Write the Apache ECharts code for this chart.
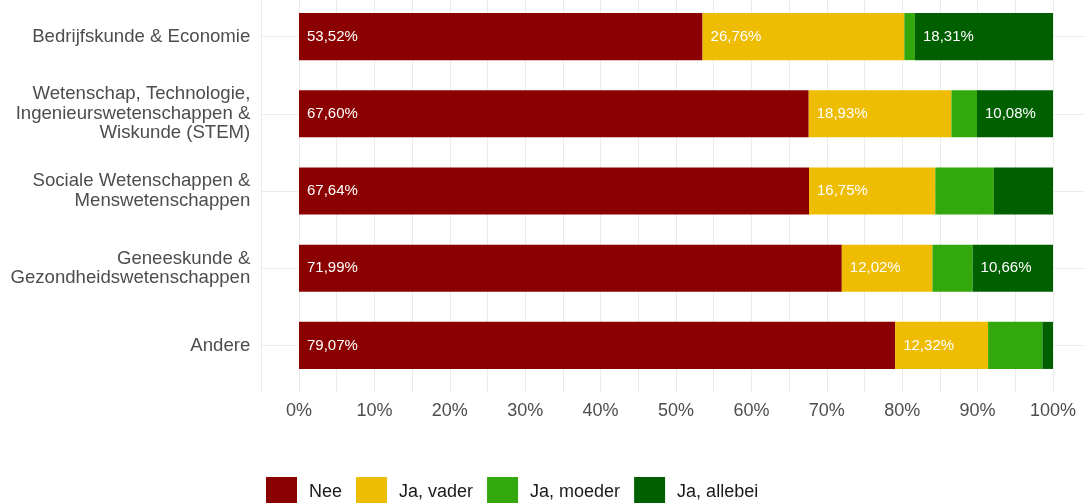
<!DOCTYPE html>
<html>
<head>
<meta charset="utf-8">
<script src="https://cdn.jsdelivr.net/npm/echarts@6/dist/echarts.min.js"></script>
<style>
  html, body { margin: 0; padding: 0; background: #ffffff; }
  #chart { width: 1084px; height: 503px; }
</style>
</head>
<body>
<div id="chart"></div>
<script>
// Study fields, top to bottom
const categories = [
  'Bedrijfskunde & Economie',
  'Wetenschap, Technologie,\nIngenieurswetenschappen &\nWiskunde (STEM)',
  'Sociale Wetenschappen &\nMenswetenschappen',
  'Geneeskunde &\nGezondheidswetenschappen',
  'Andere'
];

// Share (%) per answer
const nee     = [53.52, 67.60, 67.64, 71.99, 79.07];
const vader   = [26.76, 18.93, 16.75, 12.02, 12.32];
const moeder  = [1.41, 3.39, 7.76, 5.33, 7.20];
const allebei = [18.31, 10.08, 7.85, 10.66, 1.41];

const seriesNames = ['Nee', 'Ja, vader', 'Ja, moeder', 'Ja, allebei'];
const seriesColors = ['#8b0000', '#eebc00', '#33a80c', '#006000'];

// Percentage tick labels along the x axis
const xTickLabels = [0, 10, 20, 30, 40, 50, 60, 70, 80, 90, 100];

const gridLine = '#ebebeb';
const font = '"Liberation Sans", Arial, Helvetica, sans-serif';

// Panel geometry (shared by the background grid and the bar grid)
const panelLeft = 261.3;
const panelWidth = 829.4;

const fmt = v => v.toFixed(2).replace('.', ',') + '%';

function barSeries(name, values, color) {
  return {
    name: name,
    type: 'bar',
    stack: 'total',
    xAxisIndex: 1,
    yAxisIndex: 1,
    barCategoryGap: '39%',
    z: 3,
    itemStyle: { color: color },
    label: {
      show: true,
      position: 'insideLeft',
      distance: 8,
      color: '#ffffff',
      fontFamily: font,
      fontSize: 15,
      formatter: p => (p.value >= 10 ? fmt(p.value) : '')
    },
    emphasis: { disabled: true },
    data: values
  };
}

const chart = echarts.init(document.getElementById('chart'), null, { renderer: 'canvas' });

chart.setOption({
  animation: false,
  backgroundColor: '#ffffff',
  grid: [
    // background panel: vertical gridlines and x labels
    { left: panelLeft, width: panelWidth, top: -10, height: 402, outerBoundsMode: 'none', containLabel: false },
    // bars
    { left: panelLeft, width: panelWidth, top: -2, height: 386, outerBoundsMode: 'none', containLabel: false }
  ],
  xAxis: [
    {
      gridIndex: 0,
      type: 'value',
      min: -5,
      max: 105,
      interval: 5,
      axisLine: { show: false },
      axisTick: { show: false },
      splitLine: { show: true, lineStyle: { color: gridLine, width: 1 } },
      axisLabel: {
        margin: 10,
        color: '#4d4d4d',
        fontFamily: font,
        fontSize: 18,
        showMinLabel: true,
        showMaxLabel: true,
        hideOverlap: false,
        formatter: v => (xTickLabels.indexOf(v) >= 0 ? v + '%' : '')
      }
    },
    {
      gridIndex: 1,
      type: 'value',
      min: -5,
      max: 105,
      show: false
    }
  ],
  yAxis: [
    {
      gridIndex: 0,
      type: 'value',
      show: false
    },
    {
      gridIndex: 1,
      type: 'category',
      inverse: true,
      data: categories,
      axisLine: { show: false },
      axisTick: { show: false },
      splitLine: { show: false },
      axisLabel: {
        margin: 11,
        color: '#4d4d4d',
        fontFamily: font,
        fontSize: 18.6,
        lineHeight: 19.5,
        align: 'right'
      }
    }
  ],
  legend: {
    left: 266,
    top: 477,
    padding: 0,
    orient: 'horizontal',
    itemWidth: 31,
    itemHeight: 31,
    itemGap: 14,
    icon: 'rect',
    data: seriesNames,
    textStyle: {
      color: '#1a1a1a',
      fontFamily: font,
      fontSize: 18,
      padding: [0, 0, 0, 7]
    }
  },
  series: [
    // horizontal gridlines through each category centre
    {
      type: 'line',
      xAxisIndex: 1,
      yAxisIndex: 1,
      data: [],
      z: 1,
      silent: true,
      markLine: {
        silent: true,
        symbol: 'none',
        z: 1,
        label: { show: false },
        lineStyle: { color: gridLine, width: 1, type: 'solid' },
        data: categories.map(c => ({ yAxis: c }))
      }
    },
    barSeries(seriesNames[0], nee, seriesColors[0]),
    barSeries(seriesNames[1], vader, seriesColors[1]),
    barSeries(seriesNames[2], moeder, seriesColors[2]),
    barSeries(seriesNames[3], allebei, seriesColors[3])
  ]
});
</script>
</body>
</html>
